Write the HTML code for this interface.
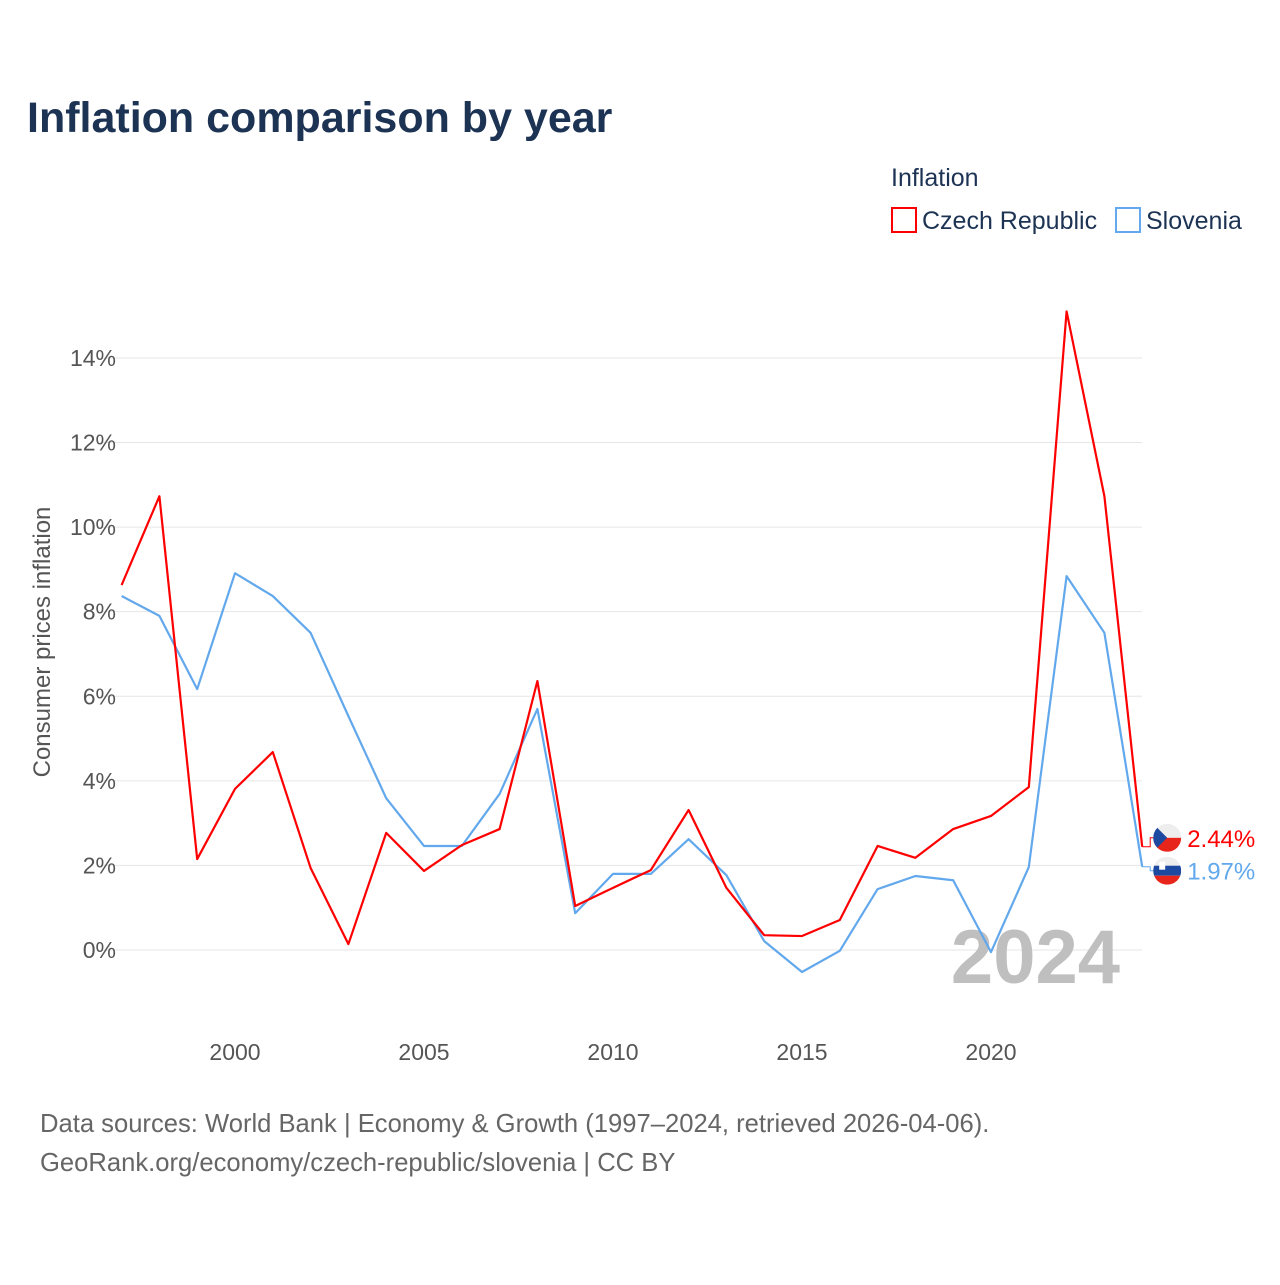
<!DOCTYPE html>
<html><head><meta charset="utf-8"><style>
body{margin:0;background:#fff;font-family:"Liberation Sans",sans-serif;}
svg text{font-family:"Liberation Sans",sans-serif;}
</style></head><body>
<svg width="1280" height="1280" viewBox="0 0 1280 1280" id="chart">
<text x="27" y="132" font-size="43" font-weight="bold" fill="#1d3354">Inflation comparison by year</text>
<text x="891" y="186" font-size="25" fill="#1d3354">Inflation</text>
<g><rect x="892" y="208" width="24" height="24" fill="none" stroke="#ff0000" stroke-width="2"/><text x="922" y="229" font-size="25" fill="#1d3354">Czech Republic</text></g>
<g><rect x="1116" y="208" width="24" height="24" fill="none" stroke="#62a8ec" stroke-width="2"/><text x="1146" y="229" font-size="25" fill="#1d3354">Slovenia</text></g>
<text transform="translate(50,642) rotate(-90)" text-anchor="middle" font-size="24" fill="#555">Consumer prices inflation</text>
<g id="grid"></g><g id="yt"></g><g id="xt"></g>
<text x="1120" y="983" text-anchor="end" font-size="76" font-weight="bold" fill="#bfbfbf">2024</text>
<g id="lines"></g><g id="ends"></g>
<text x="40" y="1132" font-size="25.6" fill="#666">Data sources: World Bank | Economy &amp; Growth (1997–2024, retrieved 2026-04-06).</text>
<text x="40" y="1171" font-size="25.6" fill="#666">GeoRank.org/economy/czech-republic/slovenia | CC BY</text>
</svg>
<script>
const years=[1997,1998,1999,2000,2001,2002,2003,2004,2005,2006,2007,2008,2009,2010,2011,2012,2013,2014,2015,2016,2017,2018,2019,2020,2021,2022,2023,2024];
const czech=[8.63,10.73,2.15,3.81,4.68,1.94,0.14,2.77,1.87,2.48,2.86,6.36,1.04,1.47,1.89,3.31,1.47,0.35,0.33,0.71,2.46,2.18,2.86,3.17,3.85,15.1,10.73,2.44];
const slovenia=[8.37,7.9,6.17,8.91,8.37,7.5,5.53,3.59,2.46,2.46,3.69,5.7,0.87,1.8,1.8,2.62,1.77,0.21,-0.52,-0.02,1.44,1.75,1.65,-0.05,1.96,8.84,7.5,1.97];
const yTicks=[0,2,4,6,8,10,12,14];
const xTicks=[2000,2005,2010,2015,2020];
const X=y=>121.6+(y-1997)*37.8, Y=v=>950-v*42.29;
const NS='http://www.w3.org/2000/svg';
function mk(t,a,p){const e=document.createElementNS(NS,t);for(const k in a)e.setAttribute(k,a[k]);p.appendChild(e);return e;}
const g=document.getElementById('grid'),yt=document.getElementById('yt'),xt=document.getElementById('xt'),L=document.getElementById('lines'),E=document.getElementById('ends');
yTicks.forEach(v=>{
 const l=mk('line',{x1:100,x2:1142,y1:Y(v),y2:Y(v),stroke:'#e6e6e6','stroke-width':1},g);
 
 
 const t=mk('text',{x:116,y:Y(v)+8,'text-anchor':'end','font-size':23,fill:'#555'},yt);t.textContent=v+'%';
 
 
});
xTicks.forEach(v=>{
 const t=mk('text',{x:X(v),y:1060,'text-anchor':'middle','font-size':23,fill:'#555'},xt);t.textContent=v;
 
 
});
function line(d,c,n){
 const p=mk('polyline',{points:d.map((v,i)=>X(years[i])+','+Y(v)).join(' '),fill:'none',stroke:c,'stroke-width':2.2,'stroke-linejoin':'round'},L);
 
 
}
line(slovenia,'#62a8ec','slovenia-line');
line(czech,'#ff0000','czech-line');
function end(v,c,n,flag,dy){
 const x=X(2024),y=Y(v),ly=y+dy;
 mk('polyline',{points:`${x},${y} ${x+8},${y} ${x+8},${ly} ${x+12},${ly}`,fill:'none',stroke:c,'stroke-width':1},E);
 const f=mk('g',{},E);
 
 
 const cx=x+25;
 mk('clipPath',{id:'c'+n},f).appendChild(document.createElementNS(NS,'circle')).setAttribute('r',14);
 const cp=document.getElementById('c'+n).firstChild;cp.setAttribute('cx',cx);cp.setAttribute('cy',ly);
 const gg=mk('g',{'clip-path':`url(#c${n})`},f);
 if(flag==='cz'){mk('rect',{x:cx-14,y:ly-14,width:28,height:14,fill:'#eee'},gg);mk('rect',{x:cx-14,y:ly,width:28,height:14,fill:'#e8251a'},gg);mk('polygon',{points:`${cx-14},${ly-14} ${cx},${ly} ${cx-14},${ly+14}`,fill:'#1d4aa0'},gg);}
 else{mk('rect',{x:cx-14,y:ly-14,width:28,height:9,fill:'#eee'},gg);mk('rect',{x:cx-14,y:ly-5,width:28,height:10,fill:'#1d4aa0'},gg);mk('rect',{x:cx-14,y:ly+5,width:28,height:9,fill:'#e8251a'},gg);mk('rect',{x:cx-8,y:ly-9,width:6,height:8,fill:'#fff'},gg);}
 const t=mk('text',{x:x+45,y:ly+9,'font-size':24,fill:c},E);t.textContent=v.toFixed(2)+'%';
 
 
}
end(czech[czech.length-1],'#ff0000','czech','cz',-9);
end(slovenia[slovenia.length-1],'#62a8ec','slovenia','si',4);
</script>
</body></html>
